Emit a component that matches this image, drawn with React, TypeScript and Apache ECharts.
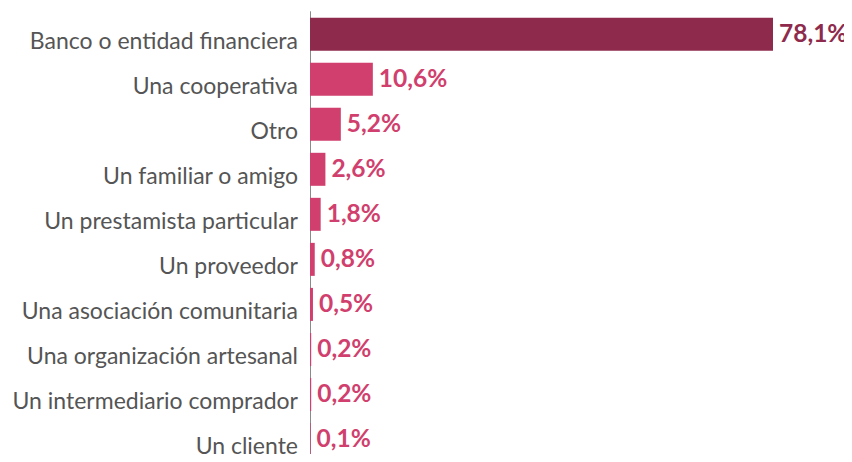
import React, { useEffect, useRef } from "react";
import * as echarts from "echarts";

const categories = [
  "Banco o entidad financiera",
  "Una cooperativa",
  "Otro",
  "Un familiar o amigo",
  "Un prestamista particular",
  "Un proveedor",
  "Una asociación comunitaria",
  "Una organización artesanal",
  "Un intermediario comprador",
  "Un cliente",
];
const values = [78.1, 10.6, 5.2, 2.6, 1.8, 0.8, 0.5, 0.2, 0.2, 0.1];

const DARK = "#8E2B4D";
const PINK = "#D03F6D";

export default function App() {
  const ref = useRef<HTMLDivElement>(null);
  useEffect(() => {
    if (!ref.current) return;
    const chart = echarts.init(ref.current, null, { renderer: "svg" });
    chart.setOption({
      animation: false,
      grid: { left: 310, right: 79, top: 11.7, height: 456 },
      xAxis: {
        type: "value",
        min: 0,
        max: 78.1,
        show: false,
      },
      yAxis: {
        type: "category",
        inverse: true,
        data: categories,
        axisLine: { show: true, lineStyle: { color: "#8a8a8a", width: 1 } },
        axisTick: { show: false },
        axisLabel: {
          color: "#555555",
          fontFamily: "Lato",
          fontSize: 23,
          margin: 12,
          verticalAlign: "top",
          lineHeight: 11,
        },
      },
      series: [
        {
          type: "bar",
          barWidth: 33,
          data: values.map((v, i) => ({
            value: v,
            itemStyle: { color: i === 0 ? DARK : PINK },
            label: { color: i === 0 ? DARK : PINK },
          })),
          label: {
            show: true,
            position: "right",
            distance: 6,
            offset: [0, -2],
            fontFamily: "Lato",
            fontWeight: "bold",
            fontSize: 24.5,
            formatter: (p: any) => p.value.toFixed(1).replace(".", ",") + "%",
          },
        },
      ],
    });
    return () => chart.dispose();
  }, []);
  return <div ref={ref} style={{ width: 852, height: 462, margin: -8 }} />;
}
